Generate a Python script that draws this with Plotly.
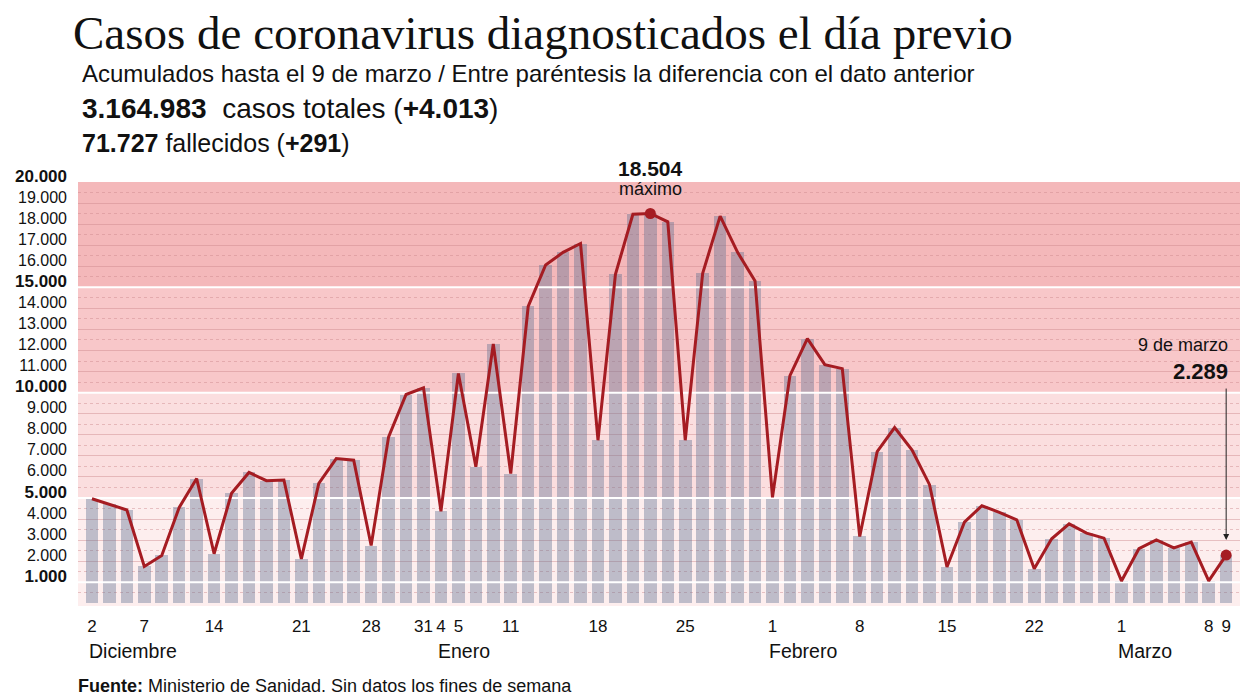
import plotly.graph_objects as go

# ---------------- data ----------------
dias = [
    "2020-12-02", "2020-12-03", "2020-12-04", "2020-12-07", "2020-12-09", "2020-12-10", "2020-12-11",
    "2020-12-14", "2020-12-15", "2020-12-16", "2020-12-17", "2020-12-18",
    "2020-12-21", "2020-12-22", "2020-12-23", "2020-12-24",
    "2020-12-28", "2020-12-29", "2020-12-30", "2020-12-31",
    "2021-01-04", "2021-01-05", "2021-01-07", "2021-01-08",
    "2021-01-11", "2021-01-12", "2021-01-13", "2021-01-14", "2021-01-15",
    "2021-01-18", "2021-01-19", "2021-01-20", "2021-01-21", "2021-01-22",
    "2021-01-25", "2021-01-26", "2021-01-27", "2021-01-28", "2021-01-29",
    "2021-02-01", "2021-02-02", "2021-02-03", "2021-02-04", "2021-02-05",
    "2021-02-08", "2021-02-09", "2021-02-10", "2021-02-11", "2021-02-12",
    "2021-02-15", "2021-02-16", "2021-02-17", "2021-02-18", "2021-02-19",
    "2021-02-22", "2021-02-23", "2021-02-24", "2021-02-25", "2021-02-26",
    "2021-03-01", "2021-03-02", "2021-03-03", "2021-03-04", "2021-03-05",
    "2021-03-08", "2021-03-09",
]
casos = [
    4960, 4700, 4430, 1750, 2270, 4550, 5920,
    2350, 5220, 6210, 5820, 5850,
    2110, 5690, 6870, 6790,
    2740, 7900, 9910, 10230,
    4370, 10910, 6480, 12310,
    6160, 14090, 16060, 16660, 17080,
    7740, 15620, 18470, 18504, 18110,
    7740, 15670, 18380, 16660, 15300,
    5030, 10810, 12560, 11330, 11140,
    3170, 7200, 8340, 7270, 5630,
    1720, 3850, 4630, 4320, 3960,
    1640, 3060, 3770, 3330, 3090,
    1060, 2590, 3010, 2630, 2900,
    1060, 2289,
]
tick_dias = ["2020-12-02", "2020-12-07", "2020-12-14", "2020-12-21", "2020-12-28", "2020-12-31",
             "2021-01-04", "2021-01-05", "2021-01-11", "2021-01-18", "2021-01-25",
             "2021-02-01", "2021-02-08", "2021-02-15", "2021-02-22",
             "2021-03-01", "2021-03-08", "2021-03-09"]
meses = ["Diciembre", "Enero", "Febrero", "Marzo"]
mes_inicio = ["2020-12-02", "2021-01-04", "2021-02-01", "2021-03-01"]
y_ticks = [1000, 2000, 3000, 4000, 5000, 6000, 7000, 8000, 9000, 10000,
           11000, 12000, 13000, 14000, 15000, 16000, 17000, 18000, 19000, 20000]
y_bold = [1000, 5000, 10000, 15000, 20000]
bandas = [(-130, 5000, "#fdeeee"), (5000, 10000, "#fbdedf"),
          (10000, 15000, "#f8c7c9"), (15000, 20000, "#f4b8ba")]
lineas_blancas = [1000, 5000, 10000, 15000]

# ---------------- derived ----------------
xs = list(range(len(dias)))
XMIN, XMAX = -0.8, len(dias) - 1 + 0.85
YMIN, YMAX = -130, 20000
RED = "#a51c22"

def fmt(v):
    return f"{v:,}".replace(",", ".")

ticktext_y = []
for v in y_ticks:
    if v in y_bold:
        ticktext_y.append(f"<b><span style='font-size:17px'>{fmt(v)}</span></b>")
    else:
        ticktext_y.append(fmt(v))

fig = go.Figure()

fig.add_trace(go.Bar(
    x=xs, y=casos, width=0.72,
    marker=dict(color="rgba(95,112,145,0.40)", line=dict(width=0)),
    hoverinfo="skip", showlegend=False,
))

wx, wy = [], []
for v in lineas_blancas:
    wx += [XMIN, XMAX, None]
    wy += [v, v, None]
fig.add_trace(go.Scatter(x=wx, y=wy, mode="lines",
                         line=dict(color="white", width=2),
                         hoverinfo="skip", showlegend=False))

fig.add_trace(go.Scatter(x=xs, y=casos, mode="lines",
                         line=dict(color=RED, width=3),
                         hoverinfo="skip", showlegend=False))

imax = casos.index(max(casos))
ilast = len(casos) - 1
fig.add_trace(go.Scatter(x=[imax, ilast], y=[casos[imax], casos[ilast]], mode="markers",
                         marker=dict(color=RED, size=11),
                         hoverinfo="skip", showlegend=False))

for y0, y1, c in bandas:
    fig.add_shape(type="rect", xref="paper", yref="y", x0=0, x1=1, y0=y0, y1=y1,
                  fillcolor=c, line=dict(width=0), layer="below")

# page pixel -> paper coordinates (plot area spans x 78..1241, y 182..606 on the page)
def px_x(px):
    return (px - 78) / 1163

def px_y(py):
    return (606 - py) / 424

ann = []
ann.append(dict(xref="paper", yref="paper", x=px_x(71), y=px_y(33), xanchor="left", yanchor="middle",
                text="Casos de coronavirus diagnosticados el día previo", showarrow=False,
                font=dict(family="Liberation Serif", size=47, color="#111")))
ann.append(dict(xref="paper", yref="paper", x=px_x(80), y=px_y(73), xanchor="left", yanchor="middle",
                text="Acumulados hasta el 9 de marzo / Entre paréntesis la diferencia con el dato anterior",
                showarrow=False, font=dict(family="Liberation Sans", size=24, color="#111")))
ann.append(dict(xref="paper", yref="paper", x=px_x(80), y=px_y(108), xanchor="left", yanchor="middle",
                text="<b>3.164.983</b>  casos totales (<b>+4.013</b>)",
                showarrow=False, font=dict(family="Liberation Sans", size=28, color="#111")))
ann.append(dict(xref="paper", yref="paper", x=px_x(80), y=px_y(143), xanchor="left", yanchor="middle",
                text="<b>71.727</b> fallecidos (<b>+291</b>)",
                showarrow=False, font=dict(family="Liberation Sans", size=25, color="#111")))
ann.append(dict(xref="x", yref="paper", x=imax, y=px_y(168), xanchor="center", yanchor="middle",
                text=f"<b>{fmt(casos[imax])}</b>", showarrow=False,
                font=dict(family="Liberation Sans", size=21, color="#111")))
ann.append(dict(xref="x", yref="paper", x=imax, y=px_y(189), xanchor="center", yanchor="middle",
                text="máximo", showarrow=False,
                font=dict(family="Liberation Sans", size=18, color="#111")))
ann.append(dict(xref="x", yref="paper", x=ilast, y=px_y(345), xanchor="right", yanchor="middle",
                xshift=4, text="9 de marzo", showarrow=False,
                font=dict(family="Liberation Sans", size=18, color="#111")))
ann.append(dict(xref="x", yref="paper", x=ilast, y=px_y(371), xanchor="right", yanchor="middle",
                xshift=4, text=f"<b>{fmt(casos[ilast])}</b>", showarrow=False,
                font=dict(family="Liberation Sans", size=22, color="#111")))
ann.append(dict(xref="x", yref="y", x=ilast, y=casos[ilast], text="", showarrow=True,
                ax=0, ay=-168, axref="pixel", ayref="pixel", standoff=15,
                arrowhead=2, arrowsize=1.2, arrowwidth=1, arrowcolor="#222"))
for m, d in zip(meses, mes_inicio):
    ann.append(dict(xref="x", yref="paper", x=dias.index(d), y=px_y(651), xanchor="left",
                    yanchor="middle", xshift=-5, text=m, showarrow=False,
                    font=dict(family="Liberation Sans", size=19.5, color="#111")))
ann.append(dict(xref="paper", yref="paper", x=px_x(76), y=px_y(686), xanchor="left", yanchor="middle",
                text="<b>Fuente:</b> Ministerio de Sanidad. Sin datos los fines de semana",
                showarrow=False, font=dict(family="Liberation Sans", size=18, color="#111")))

# the page body adds an 8px margin, so the figure is 16px smaller than the window
fig.update_layout(
    width=1240, height=690,
    margin=dict(l=70, r=7, t=174, b=92),
    paper_bgcolor="white", plot_bgcolor="white",
    bargap=0, showlegend=False,
    annotations=ann,
    xaxis=dict(range=[XMIN, XMAX], tickmode="array",
               tickvals=[dias.index(d) for d in tick_dias],
               ticktext=[str(int(d[-2:])) for d in tick_dias],
               showgrid=False, zeroline=False, showline=False, ticks="",
               ticklabelstandoff=8,
               tickfont=dict(family="Liberation Sans", size=17, color="#111")),
    yaxis=dict(range=[YMIN, YMAX], tickmode="array", tickvals=y_ticks, ticktext=ticktext_y,
               showgrid=True, gridcolor="rgba(205,135,140,0.45)", gridwidth=1,
               zeroline=False, showline=False, ticks="",
               ticklabelshift=-6, ticklabelstandoff=10,
               minor=dict(tickmode="linear", tick0=500, dtick=1000, showgrid=True,
                          griddash="dot", gridcolor="rgba(205,135,140,0.45)", gridwidth=1),
               tickfont=dict(family="Liberation Sans", size=16, color="#111")),
)

fig.write_html("out.html")
